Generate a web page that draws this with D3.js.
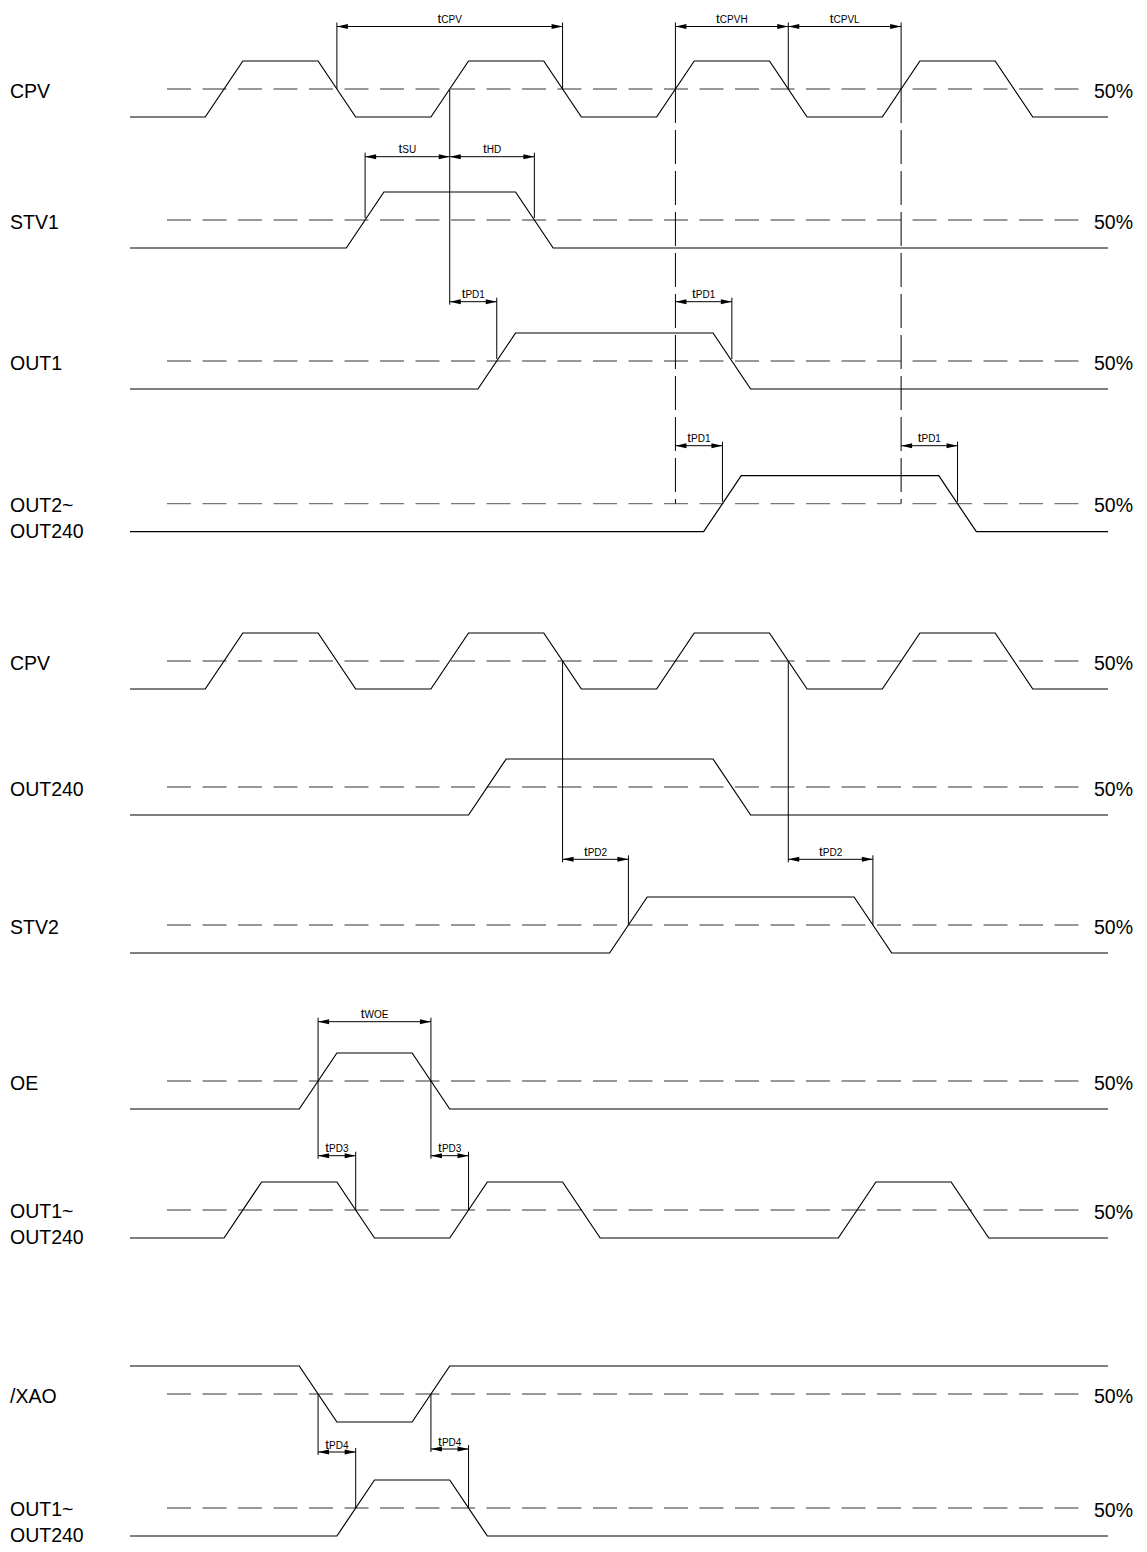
<!DOCTYPE html>
<html>
<head>
<meta charset="utf-8">
<script src="https://cdn.jsdelivr.net/npm/d3@7"></script>
<style>
  body { margin: 0; background: #fff; }
  text { font-family: "Liberation Sans", Arial, sans-serif; fill: #000; }
</style>
</head>
<body>
<div id="chart-area"></div>
<script>
// waveforms: [time, level] breakpoints, time in ramp units (0..26)
var cpv = [[0,0],[2,0],[3,1],[5,1],[6,0],[8,0],[9,1],[11,1],[12,0],[14,0],[15,1],[17,1],[18,0],[20,0],[21,1],[23,1],[24,0],[26,0]];
var stv1 = [[0,0],[5.75,0],[6.75,1],[10.25,1],[11.25,0],[26,0]];
var out1 = [[0,0],[9.25,0],[10.25,1],[15.5,1],[16.5,0],[26,0]];
var out2 = [[0,0],[15.25,0],[16.25,1],[21.5,1],[22.5,0],[26,0]];
var out240 = [[0,0],[9,0],[10,1],[15.5,1],[16.5,0],[26,0]];
var stv2 = [[0,0],[12.75,0],[13.75,1],[19.25,1],[20.25,0],[26,0]];
var oe = [[0,0],[4.5,0],[5.5,1],[7.5,1],[8.5,0],[26,0]];
var outOe = [[0,0],[2.5,0],[3.5,1],[5.5,1],[6.5,0],[8.5,0],[9.5,1],[11.5,1],[12.5,0],[18.83,0],[19.83,1],[21.83,1],[22.83,0],[26,0]];
var xao = [[0,1],[4.5,1],[5.5,0],[7.5,0],[8.5,1],[26,1]];
var outXao = [[0,0],[5.5,0],[6.5,1],[8.5,1],[9.5,0],[26,0]];

var signals = [cpv, stv1, out1, out2, cpv, out240, stv2, oe, outOe, xao, outXao];
var rowLabels = [["CPV"], ["STV1"], ["OUT1"], ["OUT2~", "OUT240"], ["CPV"], ["OUT240"], ["STV2"], ["OE"], ["OUT1~", "OUT240"], ["/XAO"], ["OUT1~", "OUT240"]];
var levelLabel = "50%";

// timing parameters: subscript, start time, end time, row it sits above
var dimNames = ["CPV", "CPVH", "CPVL", "SU", "HD", "PD1", "PD1", "PD1", "PD1", "PD2", "PD2", "WOE", "PD3", "PD3", "PD4", "PD4"];
var dimStart = [5.5, 14.5, 17.5, 6.25, 8.5, 8.5, 14.5, 14.5, 20.5, 11.5, 17.5, 5, 5, 8, 5, 8];
var dimEnd = [11.5, 17.5, 20.5, 8.5, 10.75, 9.75, 16, 15.75, 22, 13.25, 19.75, 8, 6, 9, 6, 9];

// layout
var rowMid = [89, 220, 361, 503.7, 661, 787, 925, 1081, 1210, 1394, 1508];
var dimY = [26.5, 26.5, 26.5, 156.7, 156.7, 301.7, 301.7, 445.7, 445.7, 859.3, 859.3, 1021.7, 1155.7, 1155.7, 1452, 1449];
var half = 28;

var svg = d3.select("#chart-area").append("svg")
    .attr("width", 1147)
    .attr("height", 1552)

var x = d3.scaleLinear()
    .domain([0, 26])
    .range([130, 1108])

// 50% reference lines
svg.selectAll('line.ref')
    .data(rowMid)
    .enter()
    .append('line')
    .attr('class', 'ref')
    .attr('x1', 167)
    .attr('x2', 1080)
    .attr('y1', (d) => d)
    .attr('y2', (d) => d)
    .attr('stroke', '#777')
    .attr('stroke-width', 1.3)
    .attr('stroke-dasharray', '24,11.5')

svg.selectAll('text.pct')
    .data(rowMid)
    .enter()
    .append('text')
    .attr('class', 'pct')
    .attr('x', 1094)
    .attr('y', (d) => d + 8.5)
    .style('font-size', '19.5px')
    .text(levelLabel)

// row labels
rowLabels.forEach((lines, i) => {
    lines.forEach((s, j) => {
        svg.append('text')
            .attr('x', 10)
            .attr('y', rowMid[i] + (lines.length > 1 ? 8 + j * 26 : 8.5))
            .style('font-size', '19.5px')
            .text(s)
    })
})

// waveforms
signals.forEach((sig, i) => {
    var line = d3.line()
        .x((d) => x(d[0]))
        .y((d) => rowMid[i] + (d[1] ? -half : half))
    svg.append('path')
        .attr('d', line(sig))
        .attr('fill', 'none')
        .attr('stroke', '#000')
        .attr('stroke-width', 1.2)
})

// guide lines (vertical extension lines)
var guides = [
    {t: 5.5, y0: dimY[0] - 4, y1: rowMid[0]},
    {t: 11.5, y0: dimY[0] - 4, y1: rowMid[0]},
    {t: 14.5, y0: dimY[1] - 4, y1: rowMid[0]},
    {t: 17.5, y0: dimY[1] - 4, y1: rowMid[0]},
    {t: 20.5, y0: dimY[2] - 4, y1: rowMid[0]},
    {t: 14.5, y0: rowMid[0], y1: rowMid[3], dash: true},
    {t: 20.5, y0: rowMid[0], y1: rowMid[3], dash: true},
    {t: 8.5, y0: rowMid[0], y1: dimY[5] + 3},
    {t: 6.25, y0: dimY[3] - 4, y1: rowMid[1] - 2},
    {t: 10.75, y0: dimY[4] - 4, y1: rowMid[1] - 2},
    {t: 9.75, y0: dimY[5] - 4, y1: rowMid[2] - 2},
    {t: 16, y0: dimY[6] - 4, y1: rowMid[2] - 2},
    {t: 15.75, y0: dimY[7] - 4, y1: rowMid[3] - 2},
    {t: 22, y0: dimY[8] - 4, y1: rowMid[3] - 2},
    {t: 11.5, y0: rowMid[4], y1: dimY[9] + 3},
    {t: 17.5, y0: rowMid[4], y1: dimY[10] + 3},
    {t: 13.25, y0: dimY[9] - 4, y1: rowMid[6]},
    {t: 19.75, y0: dimY[10] - 4, y1: rowMid[6]},
    {t: 5, y0: dimY[11] - 4, y1: dimY[12] + 3},
    {t: 8, y0: dimY[11] - 4, y1: dimY[13] + 3},
    {t: 6, y0: dimY[12] - 4, y1: rowMid[8]},
    {t: 9, y0: dimY[13] - 4, y1: rowMid[8]},
    {t: 5, y0: rowMid[9], y1: dimY[14] + 3},
    {t: 8, y0: rowMid[9], y1: dimY[15] + 3},
    {t: 6, y0: dimY[14] - 4, y1: rowMid[10]},
    {t: 9, y0: dimY[15] - 4, y1: rowMid[10]}
];

svg.selectAll('line.guide')
    .data(guides)
    .enter()
    .append('line')
    .attr('class', 'guide')
    .attr('x1', (d) => x(d.t))
    .attr('x2', (d) => x(d.t))
    .attr('y1', (d) => d.y0)
    .attr('y2', (d) => d.y1)
    .attr('stroke', '#000')
    .attr('stroke-width', 1)
    .attr('stroke-dasharray', (d) => d.dash ? '34,7' : null)

// dimension arrows and labels
dimNames.forEach((name, i) => {
    var x0 = x(dimStart[i]), x1 = x(dimEnd[i]), y = dimY[i];
    svg.append('line')
        .attr('x1', x0)
        .attr('x2', x1)
        .attr('y1', y)
        .attr('y2', y)
        .attr('stroke', '#000')
        .attr('stroke-width', 1)
    svg.append('path')
        .attr('d', `M${x0},${y}L${x0 + 11},${y - 2.5}L${x0 + 11},${y + 2.5}Z`)
        .attr('fill', '#000')
    svg.append('path')
        .attr('d', `M${x1},${y}L${x1 - 11},${y - 2.5}L${x1 - 11},${y + 2.5}Z`)
        .attr('fill', '#000')
    var t = svg.append('text')
        .attr('x', (x0 + x1) / 2)
        .attr('y', y - 3.5)
        .attr('text-anchor', 'middle')
    t.append('tspan').style('font-size', '13.5px').text('t')
    t.append('tspan').style('font-size', '10px').text(name)
})
</script>
</body>
</html>
